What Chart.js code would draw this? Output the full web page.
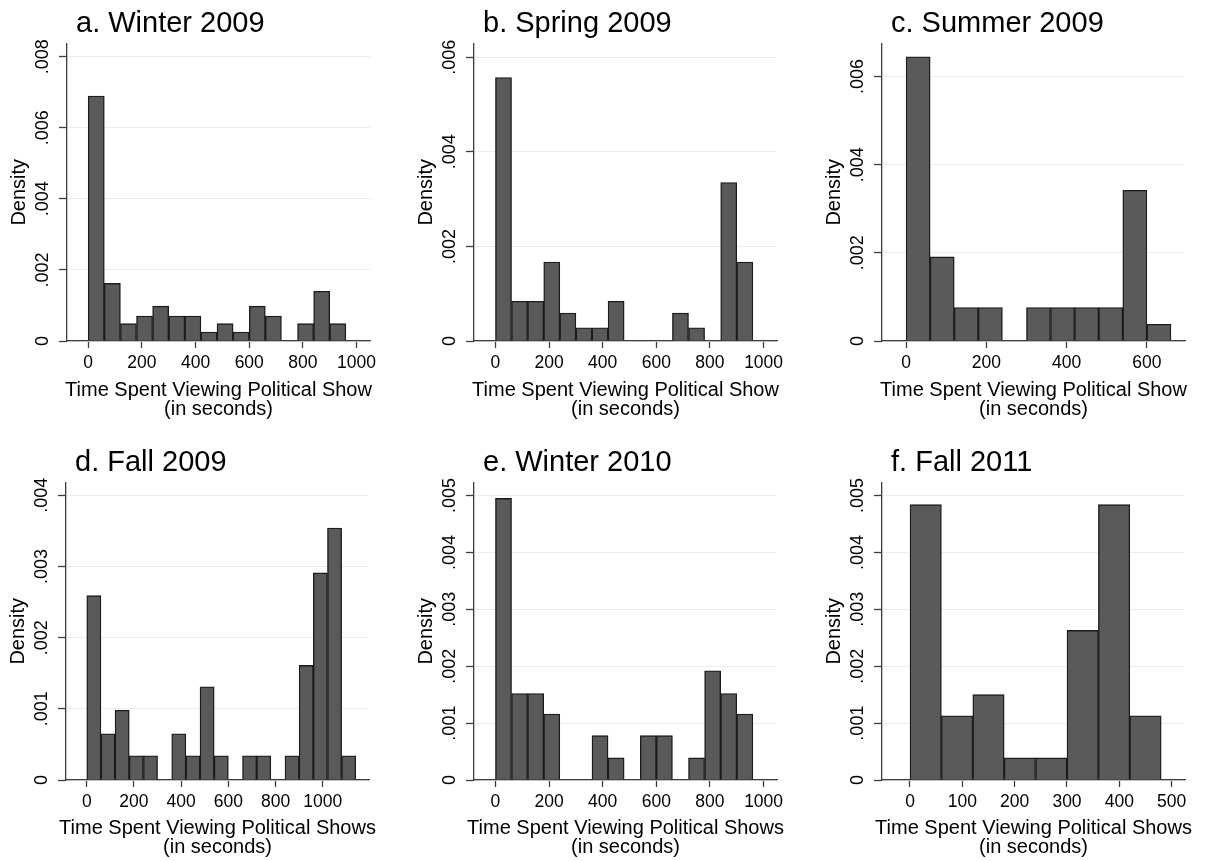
<!DOCTYPE html>
<html>
<head>
<meta charset="utf-8">
<script src="https://cdn.jsdelivr.net/npm/chart.js@4.4.1/dist/chart.umd.min.js"></script>
<style>
  html, body { margin: 0; padding: 0; background: #fff; overflow: hidden; }
  canvas { position: absolute; }
</style>
</head>
<body>
<script>
// histogram bins are 60 seconds wide, starting at 0
const binWidth = 60;

const densityWinter2009 = [.00689, .00162, .00049, .00070, .00098, .00070, .00070, .00025,
                           .00049, .00025, .00098, .00070, 0, .00049, .00140, .00049];
const densitySpring2009 = [.00557, .00084, .00084, .00167, .00059, .00028, .00028, .00084,
                           0, 0, 0, .00059, .00028, 0, .00335, .00167];
const densitySummer2009 = [.00645, .00191, .00076, .00076, 0, .00076, .00076, .00076, .00076, .00342, .00038];
const densityFall2009   = [.00259, .00065, .00098, .00034, .00034, 0, .00065, .00034, .00131, .00034,
                           0, .00034, .00034, 0, .00034, .00161, .00291, .00354, .00034];
const densityWinter2010 = [.00495, .00152, .00152, .00116, 0, 0, .00078, .00039,
                           0, .00078, .00078, 0, .00039, .00192, .00152, .00116];
const densityFall2011   = [.00484, .00113, .00150, .00039, .00039, .00263, .00484, .00113];

const xTicks1000 = ['0', '200', '400', '600', '800', '1000'];
const xTicks600  = ['0', '200', '400', '600'];
const xTicks500  = ['0', '100', '200', '300', '400', '500'];
const yTicks008  = ['0', '.002', '.004', '.006', '.008'];
const yTicks006  = ['0', '.002', '.004', '.006'];
const yTicks004  = ['0', '.001', '.002', '.003', '.004'];
const yTicks005  = ['0', '.001', '.002', '.003', '.004', '.005'];

const showLabel  = ['Time Spent Viewing Political Show', '(in seconds)'];
const showsLabel = ['Time Spent Viewing Political Shows', '(in seconds)'];

const panels = [
  { title: 'a. Winter 2009', density: densityWinter2009, xTicks: xTicks1000, yTicks: yTicks008,
    xMin: -79, xMax: 1050, yMax: .00837, xTitle: showLabel, left: 0, top: 0, gaps: [55, 74] },
  { title: 'b. Spring 2009', density: densitySpring2009, xTicks: xTicks1000, yTicks: yTicks006,
    xMin: -80, xMax: 1050, yMax: .00629, xTitle: showLabel, left: 407, top: 0, gaps: [55, 74] },
  { title: 'c. Summer 2009', density: densitySummer2009, xTicks: xTicks600, yTicks: yTicks006,
    xMin: -60, xMax: 695, yMax: .00675, xTitle: showLabel, left: 815, top: 0, gaps: [55, 74] },
  { title: 'd. Fall 2009', density: densityFall2009, xTicks: xTicks1000, yTicks: yTicks004,
    xMin: -88, xMax: 1196, yMax: .00418, xTitle: showsLabel, left: -1, top: 439, gaps: [54, 73] },
  { title: 'e. Winter 2010', density: densityWinter2010, xTicks: xTicks1000, yTicks: yTicks005,
    xMin: -80, xMax: 1050, yMax: .00523, xTitle: showsLabel, left: 407, top: 439, gaps: [54, 73] },
  { title: 'f. Fall 2011', density: densityFall2011, xTicks: xTicks500, yTicks: yTicks005,
    xMin: -53.5, xMax: 525.5, yMax: .00523, xTitle: showsLabel, left: 815, top: 439, gaps: [54, 73] }
];

const FONT = '"Liberation Sans", Arial, Helvetica, sans-serif';
const AXIS = '#3c3c3c';

// panel title above the plot and the two-line x caption below it
const captionPlugin = {
  id: 'caption',
  afterDraw(chart, args, opts) {
    const { ctx, chartArea } = chart;
    ctx.save();
    ctx.fillStyle = '#000';
    ctx.textBaseline = 'alphabetic';
    ctx.textAlign = 'left';
    ctx.font = '29px ' + FONT;
    ctx.fillText(opts.title, chartArea.left + 9, chartArea.top - 12);
    ctx.font = '20px ' + FONT;
    ctx.textAlign = 'center';
    const cx = (chartArea.left + chartArea.right) / 2;
    opts.xTitle.forEach((line, i) => ctx.fillText(line, cx, chartArea.bottom + opts.gaps[i]));
    ctx.restore();
  }
};

panels.forEach(p => {
  const canvas = document.createElement('canvas');
  canvas.width = 392;
  canvas.height = 425;
  canvas.style.left = p.left + 'px';
  canvas.style.top = p.top + 'px';
  document.body.appendChild(canvas);

  const bars = p.density.map((d, i) => ({ x: i * binWidth + binWidth / 2, y: d }));

  new Chart(canvas.getContext('2d'), {
    type: 'bar',
    data: {
      datasets: [{
        data: bars,
        backgroundColor: '#5a5a5a',
        borderColor: '#1c1c1c',
        borderWidth: 1.4,
        barPercentage: 1,
        categoryPercentage: 1
      }]
    },
    plugins: [captionPlugin],
    options: {
      responsive: false,
      animation: false,
      devicePixelRatio: 1,
      layout: { padding: { left: 0, right: 22, top: 43.5, bottom: 0 } },
      plugins: {
        legend: { display: false },
        tooltip: { enabled: false },
        caption: { title: p.title, xTitle: p.xTitle, gaps: p.gaps }
      },
      scales: {
        x: {
          type: 'linear',
          min: p.xMin,
          max: p.xMax,
          offset: false,
          afterBuildTicks: s => { s.ticks = p.xTicks.map(t => ({ value: parseFloat(t) })); },
          afterFit: s => { s.height = 84; },
          grid: { offset: false, drawOnChartArea: false, tickLength: 7, tickColor: AXIS, tickWidth: 1.3, color: AXIS },
          border: { color: AXIS, width: 1.3 },
          ticks: {
            autoSkip: false, maxRotation: 0, padding: 4.5, color: '#000',
            font: { family: FONT, size: 17.5 },
            callback: (v, i) => p.xTicks[i]
          }
        },
        y: {
          min: 0,
          max: p.yMax,
          afterBuildTicks: s => { s.ticks = p.yTicks.map(t => ({ value: parseFloat(t) })); },
          afterFit: s => { s.width = 67; },
          grid: { color: '#e6eeee', lineWidth: 1, tickLength: 8, tickColor: AXIS, tickWidth: 1.3 },
          border: { color: AXIS, width: 1.3 },
          ticks: {
            autoSkip: false, minRotation: 90, maxRotation: 90, crossAlign: 'center', padding: -2,
            color: '#000', font: { family: FONT, size: 18 },
            callback: (v, i) => p.yTicks[i]
          },
          title: {
            display: true, text: 'Density', color: '#000',
            font: { family: FONT, size: 20 }, padding: { top: 7, bottom: 0 }
          }
        }
      }
    }
  });
});
</script>
</body>
</html>
